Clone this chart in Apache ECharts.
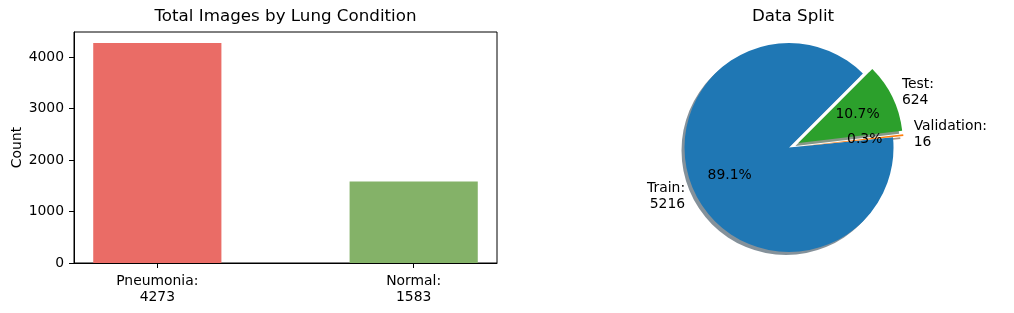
<!DOCTYPE html>
<html><head><meta charset="utf-8">
<script src="https://cdn.jsdelivr.net/npm/echarts@6/dist/echarts.min.js"></script>
<style>html,body{margin:0;padding:0;background:#fff}#c{width:1014px;height:313px}</style>
</head><body><div id="c"></div>
<script>
const conditions = ['Pneumonia', 'Normal'];
const conditionCounts = [4273, 1583];
const barColors = ['#EA6C66', '#84B268'];
const yTicks = [0, 1000, 2000, 3000, 4000];
const splitNames = ['Train', 'Validation', 'Test'];
const splitCounts = [5216, 16, 624];
const splitColors = ['#1f77b4', '#ff7f0e', '#2ca02c'];
const splitExplode = [0, 0.1, 0.1];

const FONT = 'DejaVu Sans';
const FS = 13.9;
const chart = echarts.init(document.getElementById('c'), null, {renderer: 'canvas'});

const gLeft = 74, gRight = 517, gTop = 32, gBottom = 50;
const gridW = 1014 - gLeft - gRight;
const xMin = -0.325, xMax = 1.325;
const barW = 0.5 * gridW / (xMax - xMin);
const yMax = Math.max(...conditionCounts) * 1.05;

const total = splitCounts.reduce((a, b) => a + b, 0);
const startAngle = 45;
const cx = 789, cy = 147.5, R = 104.5;
let acc = 0;
const mids = splitCounts.map(v => { const a0 = acc; acc += v / total * 360; return startAngle + (a0 + acc) / 2; });

function shadowColor(hex) {
  const n = parseInt(hex.slice(1), 16);
  const r = (n >> 16) & 255, g = (n >> 8) & 255, b = n & 255;
  return `rgba(${Math.round(r * 0.3)},${Math.round(g * 0.3)},${Math.round(b * 0.3)},0.5)`;
}

const series = [{
  type: 'bar',
  xAxisIndex: 0, yAxisIndex: 0,
  barWidth: barW,
  data: conditionCounts.map((v, i) => ({value: [i, v], itemStyle: {color: barColors[i]}})),
  silent: true, animation: false
}];

const pieBase = {
  type: 'pie', radius: R, startAngle: startAngle, clockwise: false,
  avoidLabelOverlap: false, silent: true, animation: false,
  emphasis: {disabled: true}, labelLine: {show: false}
};

splitNames.forEach((name, i) => {
  const th = mids[i] * Math.PI / 180;
  const ox = splitExplode[i] * R * Math.cos(th);
  const oy = -splitExplode[i] * R * Math.sin(th);
  const clear = 'rgba(0,0,0,0)';
  series.push(Object.assign({}, pieBase, {
    z: 1, center: [cx + ox - 3, cy + oy + 3],
    data: splitCounts.map((v, j) => ({name: splitNames[j], value: v,
      itemStyle: {color: j === i ? shadowColor(splitColors[i]) : clear, borderWidth: 0},
      label: {show: false}}))
  }));
  series.push(Object.assign({}, pieBase, {
    z: 3, center: [cx + ox, cy + oy],
    labelLine: {show: false, length: 0.1 * R, length2: 0},
    data: splitCounts.map((v, j) => ({name: splitNames[j], value: v,
      itemStyle: {color: j === i ? splitColors[i] : clear, borderWidth: 0},
      label: j === i ? {show: true, position: 'outside', distanceToLabelLine: 0,
        formatter: splitNames[i] + ':\n' + splitCounts[i],
        fontFamily: FONT, fontSize: FS, color: '#000', lineHeight: 16} : {show: false}}))
  }));
  series.push(Object.assign({}, pieBase, {
    z: 4, radius: 1.2 * R, center: [cx + ox, cy + oy],
    data: splitCounts.map((v, j) => ({name: splitNames[j], value: v,
      itemStyle: {color: clear, borderWidth: 0},
      label: j === i ? {show: true, position: 'inside',
        formatter: (v / total * 100).toFixed(1) + '%',
        fontFamily: FONT, fontSize: FS, color: '#000'} : {show: false}}))
  }));
});

chart.setOption({
  backgroundColor: '#fff',
  animation: false,
  textStyle: {fontFamily: FONT},
  title: [
    {text: 'Total Images by Lung Condition', left: 285.5, top: 8, textAlign: 'center', padding: 0,
      textStyle: {fontFamily: FONT, fontSize: 16.7, fontWeight: 'normal', color: '#000'}},
    {text: 'Data Split', left: 793, top: 8, textAlign: 'center', padding: 0,
      textStyle: {fontFamily: FONT, fontSize: 16.7, fontWeight: 'normal', color: '#000'}}
  ],
  grid: {left: gLeft, right: gRight, top: gTop, bottom: gBottom, show: true,
    borderColor: '#000', borderWidth: 1, backgroundColor: 'transparent', containLabel: false},
  xAxis: {
    type: 'value', min: xMin, max: xMax,
    axisLine: {show: true, onZero: false, lineStyle: {color: '#000', width: 1}},
    axisTick: {show: true, length: 5, customValues: [0, 1], lineStyle: {color: '#000'}},
    axisLabel: {show: true, customValues: [0, 1], margin: 10, color: '#000',
      fontFamily: FONT, fontSize: FS, lineHeight: 16, align: 'center',
      formatter: v => { const k = Math.round(v); return conditions[k] + ':\n' + conditionCounts[k]; }},
    splitLine: {show: false}
  },
  yAxis: {
    type: 'value', min: 0, max: yMax,
    name: 'Count', nameLocation: 'middle', nameGap: 48,
    nameTextStyle: {fontFamily: FONT, fontSize: FS, color: '#000'},
    axisLine: {show: true, onZero: false, lineStyle: {color: '#000', width: 1}},
    axisTick: {show: true, length: 5, customValues: yTicks, lineStyle: {color: '#000'}},
    axisLabel: {show: true, customValues: yTicks, margin: 10, color: '#000',
      fontFamily: FONT, fontSize: FS, formatter: v => String(v)},
    splitLine: {show: false}
  },
  series: series
});
</script></body></html>
